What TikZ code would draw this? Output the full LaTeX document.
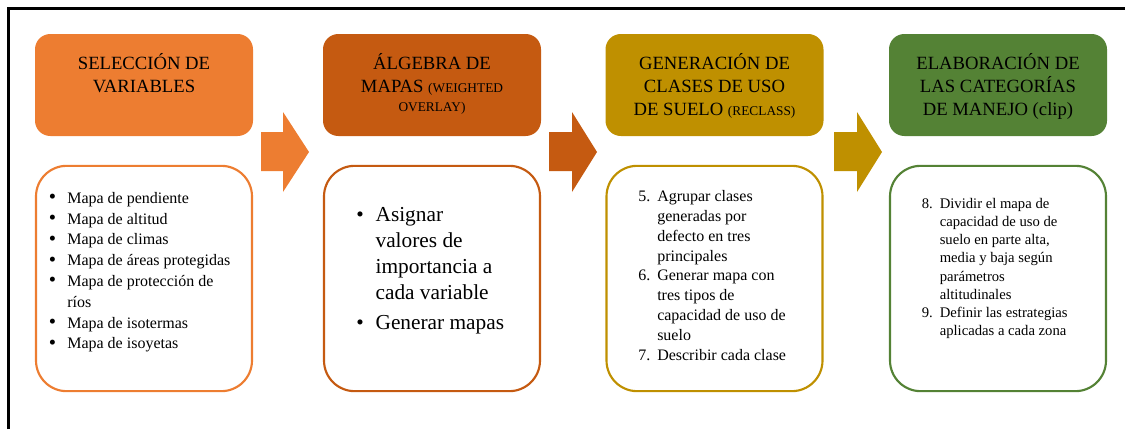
\documentclass[tikz,border=0pt]{standalone}
\usepackage{fontspec}
\setmainfont{Liberation Serif}
\definecolor{cA}{HTML}{ED7D31}
\definecolor{cB}{HTML}{C55A11}
\definecolor{cC}{HTML}{BF9000}
\definecolor{cD}{HTML}{548235}
\newcommand{\hdrfont}{\fontsize{14}{17.25}\selectfont}
\newcommand{\smallcap}{\fontsize{10}{12}\selectfont}
\newcommand{\bigbul}{\raisebox{-0.3pt}{\scalebox{1.3}{\textbullet}}}
\begin{document}
\begin{tikzpicture}[x=0.75pt,y=-0.75pt,
  hbox/.style={draw=none,rounded corners=11.5pt,minimum width=163.5pt,minimum height=76.5pt,inner sep=0pt,outer sep=0pt},
  lbox/.style={line width=1.6pt,fill=white,rounded corners=23pt,minimum width=162pt,minimum height=169pt,inner sep=0pt,outer sep=0pt},
  htext/.style={anchor=base,inner sep=0pt,font=\hdrfont,text=black},
  ltext/.style={anchor=base west,inner sep=0pt,text=black}
]
\useasboundingbox (0,0) rectangle (1125,429);
\draw[line width=1.9pt] (8.7,429) -- (8.7,8.7) -- (1125,8.7);

% header boxes
\node[hbox,fill=cA] (h1) at (144,85) {};
\node[hbox,fill=cB] (h2) at (432,85) {};
\node[hbox,fill=cC] (h3) at (714.5,85) {};
\node[hbox,fill=cD] (h4) at (998,85) {};

% lower boxes
\node[lbox,draw=cA] (b1) at (144,278.5) {};
\node[lbox,draw=cB] (b2) at (432,278.5) {};
\node[lbox,draw=cC] (b3) at (714.5,278.5) {};
\node[lbox,draw=cD] (b4) at (998,278.5) {};

% block arrows
\fill[cA] (261,132) -- (283,132) -- (283,112) -- (309,152) -- (283,192) -- (283,171) -- (261,171) -- cycle;
\fill[cB] (549,132) -- (572,132) -- (572,112) -- (597,152) -- (572,192) -- (572,171) -- (549,171) -- cycle;
\fill[cC] (834,132) -- (857,132) -- (857,112) -- (882,152) -- (857,192) -- (857,171) -- (834,171) -- cycle;

% header texts
\node[htext] (t1) at (144,69) {\begin{tabular}[t]{@{}c@{}}SELECCIÓN DE\\VARIABLES\end{tabular}};
\node[htext] (t2) at (432,69) {\begin{tabular}[t]{@{}c@{}}ÁLGEBRA DE\\MAPAS {\smallcap(WEIGHTED}\\[-2.5pt]{\smallcap OVERLAY)}\end{tabular}};
\node[htext] (t3) at (714.5,69) {\begin{tabular}[t]{@{}c@{}}GENERACIÓN DE\\CLASES DE USO\\DE SUELO {\smallcap(RECLASS)}\end{tabular}};
\node[htext] (t4) at (998,69) {\begin{tabular}[t]{@{}c@{}}ELABORACIÓN DE\\LAS CATEGORÍAS\\DE MANEJO (clip)\end{tabular}};

% list texts
\node[ltext,font=\fontsize{12}{15.6}\selectfont] (l1) at (48.5,203.3) {\begin{tabular}[t]{@{}p{13.9pt}@{}l@{}}
\bigbul & Mapa de pendiente\\
\bigbul & Mapa de altitud\\
\bigbul & Mapa de climas\\
\bigbul & Mapa de áreas protegidas\\
\bigbul & Mapa de protección de\\
 & ríos\\
\bigbul & Mapa de isotermas\\
\bigbul & Mapa de isoyetas
\end{tabular}};

\node[ltext,font=\fontsize{16}{19.35}\selectfont] (l2) at (356,221.7) {\begin{tabular}[t]{@{}p{14.5pt}@{}l@{}}
\textbullet & Asignar\\
 & valores de\\
 & importancia a\\
 & cada variable\\[3.75pt]
\textbullet & Generar mapas
\end{tabular}};

\node[ltext,font=\fontsize{12}{14.85}\selectfont] (l3) at (638,201.7) {\begin{tabular}[t]{@{}p{14.25pt}@{}l@{}}
5. & Agrupar clases\\
 & generadas por\\
 & defecto en tres\\
 & principales\\
6. & Generar mapa con\\
 & tres tipos de\\
 & capacidad de uso de\\
 & suelo\\
7. & Describir cada clase
\end{tabular}};

\node[ltext,font=\fontsize{11}{13.65}\selectfont] (l4) at (921.5,208.3) {\begin{tabular}[t]{@{}p{13.5pt}@{}l@{}}
8. & Dividir el mapa de\\
 & capacidad de uso de\\
 & suelo en parte alta,\\
 & media y baja según\\
 & parámetros\\
 & altitudinales\\
9. & Definir las estrategias\\
 & aplicadas a cada zona
\end{tabular}};
\end{tikzpicture}
\end{document}
